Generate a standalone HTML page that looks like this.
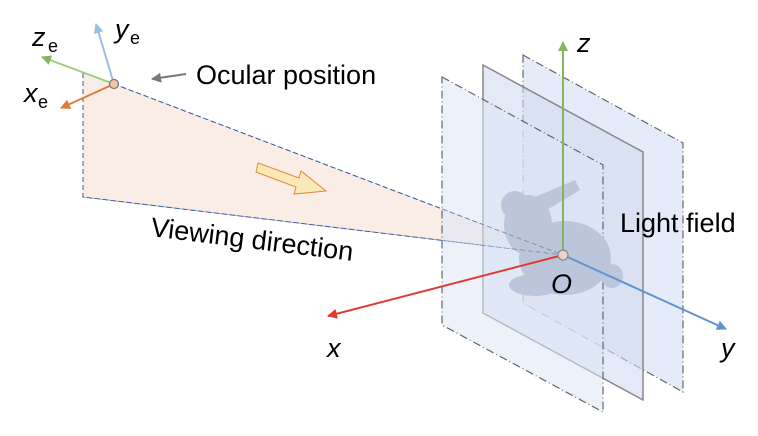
<!DOCTYPE html>
<html><head><style>body{margin:0;background:#fff}svg{display:block}text{font-family:"Liberation Sans",sans-serif}</style></head><body>
<svg width="758" height="436" viewBox="0 0 758 436">
<defs>
<marker id="ag" viewBox="0 0 10 10" refX="9" refY="5" markerWidth="5" markerHeight="5" orient="auto"><path d="M0,0L10,5L0,10z" fill="#86b560"/></marker>
<marker id="ab" viewBox="0 0 10 10" refX="9" refY="5" markerWidth="5" markerHeight="5" orient="auto"><path d="M0,0L10,5L0,10z" fill="#9bbde3"/></marker>
<marker id="ao" viewBox="0 0 10 10" refX="9" refY="5" markerWidth="5" markerHeight="5" orient="auto"><path d="M0,0L10,5L0,10z" fill="#e07b38"/></marker>
<marker id="ar" viewBox="0 0 10 10" refX="9" refY="5" markerWidth="5" markerHeight="5" orient="auto"><path d="M0,0L10,5L0,10z" fill="#e03a2f"/></marker>
<marker id="ay" viewBox="0 0 10 10" refX="9" refY="5" markerWidth="5" markerHeight="5" orient="auto"><path d="M0,0L10,5L0,10z" fill="#5f94d0"/></marker>
<marker id="agr" viewBox="0 0 10 10" refX="9" refY="5" markerWidth="5" markerHeight="5" orient="auto"><path d="M0,0L10,5L0,10z" fill="#777"/></marker>
</defs>
<path d="M83,73 L114,84 L563,255 L83,197 Z" fill="#f9ede6"/>
<path d="M83,73 L83,197 L563,255 M114,84 L563,255" fill="none" stroke="#3a5a9a" stroke-width="1" stroke-dasharray="5,3"/>
<path d="M523,55 L683,143 L683,392 L523,303 Z" fill="#dfe6f6" fill-opacity=".8" stroke="#666" stroke-width="1.2" stroke-dasharray="8,3,1,3"/>
<path d="M483,65 L643,152 L643,400 L483,313 Z" fill="#d0daf0" fill-opacity=".6" stroke="#888" stroke-width="1.5"/>
<path d="M442,77 L603,165 L603,412 L442,325 Z" fill="#dfe6f6" fill-opacity=".55" stroke="#666" stroke-width="1.2" stroke-dasharray="8,3,1,3"/>
<g fill="#bcc6da">
<ellipse cx="565" cy="258" rx="46" ry="37"/>
<ellipse cx="528" cy="225" rx="24" ry="30"/>
<ellipse cx="515" cy="205" rx="14" ry="14"/>
<path d="M528,200 L575,180 L580,190 L540,214Z"/>
<ellipse cx="535" cy="285" rx="26" ry="11"/>
<ellipse cx="612" cy="276" rx="11" ry="12"/>
</g>
<path d="M83,197 L563,255 L114,84" fill="none" stroke="#3a5a9a" stroke-width="0.8" stroke-dasharray="5,3" opacity=".6"/>
<line x1="563" y1="255" x2="563" y2="42" stroke="#86b560" stroke-width="2" marker-end="url(#ag)"/>
<line x1="563" y1="255" x2="726" y2="329" stroke="#5f94d0" stroke-width="2" marker-end="url(#ay)"/>
<line x1="563" y1="255" x2="328" y2="316" stroke="#e03a2f" stroke-width="2" marker-end="url(#ar)"/>
<circle cx="563" cy="255" r="5" fill="#e8d4c8" stroke="#888" stroke-width="1.2"/>
<line x1="114" y1="84" x2="42" y2="57" stroke="#9dcb80" stroke-width="2" marker-end="url(#ag)"/>
<line x1="114" y1="84" x2="96" y2="24" stroke="#9bbde3" stroke-width="2" marker-end="url(#ab)"/>
<line x1="114" y1="84" x2="61" y2="108" stroke="#e07b38" stroke-width="2" marker-end="url(#ao)"/>
<circle cx="114" cy="84" r="4.5" fill="#f1c7a8" stroke="#777" stroke-width="1.2"/>
<line x1="186" y1="74" x2="152" y2="79" stroke="#777" stroke-width="2" marker-end="url(#agr)"/>
<path d="M258,163 L299,178 L301,171 L326,191 L294,194 L296,187 L256,172 Z" fill="#fde9b8" stroke="#e0883a" stroke-width="1"/>
<text x="196" y="84" font-size="27">Ocular position</text>
<text x="150" y="236" font-size="27" transform="rotate(7 150 236)">Viewing direction</text>
<text x="620" y="232" font-size="27">Light field</text>
<text x="551" y="293" font-size="27" font-style="italic">O</text>
<text x="577" y="52" font-size="27" font-style="italic">z</text>
<text x="721" y="357" font-size="27" font-style="italic">y</text>
<text x="327" y="357" font-size="27" font-style="italic">x</text>
<text x="32" y="46" font-size="27" font-style="italic">z</text><text x="48" y="52" font-size="18">e</text>
<text x="115" y="38" font-size="27" font-style="italic">y</text><text x="130" y="44" font-size="18">e</text>
<text x="24" y="102" font-size="27" font-style="italic">x</text><text x="38" y="108" font-size="18">e</text>
</svg>
</body></html>
